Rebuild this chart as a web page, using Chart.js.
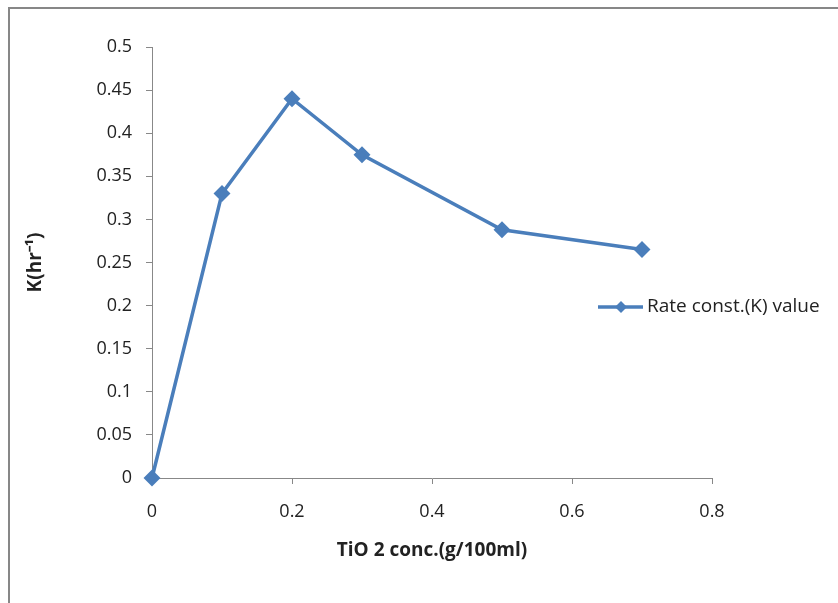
<!DOCTYPE html>
<html>
<head>
<meta charset="utf-8">
<script src="https://cdn.jsdelivr.net/npm/chart.js@4.4.0/dist/chart.umd.min.js"></script>
<style>
  html, body { margin: 0; padding: 0; background: #fff; }
  #wrap { position: relative; width: 838px; height: 603px; overflow: hidden; }
  #frame { position: absolute; left: 8px; top: 7px; width: 900px; height: 700px; border: 2px solid #878787; box-sizing: border-box; }
  canvas { position: absolute; left: 0; top: 0; }
</style>
</head>
<body>
<div id="wrap">
  <div id="frame"></div>
  <canvas id="chart" width="838" height="603"></canvas>
</div>
<script>
// TiO2 concentration vs rate constant
const concValues = [0, 0.1, 0.2, 0.3, 0.5, 0.7];
const rateValues = [0, 0.33, 0.44, 0.375, 0.288, 0.265];
const seriesLabel = "Rate const.(K) value";

const lineColor = "#4a7ebb";
const axisColor = "#888888";
const fontFamily = "'Open Sans', sans-serif";

// legend drawn to the right like the original sheet chart
const sideLegend = {
    id: "sideLegend",
    afterDraw(chart) {
        const ctx = chart.ctx;
        const y = 307;
        ctx.save();
        ctx.strokeStyle = lineColor;
        ctx.lineWidth = 3.5;
        ctx.beginPath();
        ctx.moveTo(598, y);
        ctx.lineTo(643, y);
        ctx.stroke();
        ctx.fillStyle = lineColor;
        ctx.beginPath();
        ctx.moveTo(621, y - 6);
        ctx.lineTo(627, y);
        ctx.lineTo(621, y + 6);
        ctx.lineTo(615, y);
        ctx.closePath();
        ctx.fill();
        ctx.fillStyle = "#222";
        ctx.font = "19px " + fontFamily;
        ctx.textBaseline = "middle";
        ctx.textAlign = "left";
        ctx.fillText(chart.data.datasets[0].label, 647, y);
        ctx.restore();
    }
};

new Chart(document.getElementById("chart"), {
    type: "line",
    data: {
        datasets: [{
            label: seriesLabel,
            data: concValues.map((x, i) => ({ x: x, y: rateValues[i] })),
            borderColor: lineColor,
            backgroundColor: lineColor,
            borderWidth: 3.5,
            pointStyle: "rectRot",
            pointRadius: 6,
            pointHoverRadius: 6,
            tension: 0,
            fill: false,
            clip: false
        }]
    },
    options: {
        responsive: false,
        animation: false,
        layout: { padding: { left: 0, top: 47, right: 126, bottom: 0 } },
        plugins: {
            legend: { display: false },
            tooltip: { enabled: false }
        },
        scales: {
            x: {
                type: "linear",
                min: 0,
                max: 0.8,
                afterFit: s => { s.height = 125; },
                ticks: {
                    stepSize: 0.2,
                    color: "#222",
                    padding: 17,
                    callback: v => +v.toFixed(2),
                    font: { family: fontFamily, size: 18 }
                },
                grid: { drawOnChartArea: false, tickLength: 6, color: axisColor },
                border: { color: axisColor, width: 1 },
                title: {
                    display: true,
                    text: "TiO 2 conc.(g/100ml)",
                    color: "#222",
                    font: { family: fontFamily, size: 19, weight: "bold" },
                    padding: { top: 0, bottom: 41 }
                }
            },
            y: {
                min: 0,
                max: 0.5,
                afterFit: s => { s.width = 152; },
                ticks: {
                    stepSize: 0.05,
                    color: "#222",
                    padding: 14,
                    callback: v => +v.toFixed(2),
                    font: { family: fontFamily, size: 18 }
                },
                grid: { drawOnChartArea: false, tickLength: 6, color: axisColor },
                border: { color: axisColor, width: 1 },
                title: {
                    display: true,
                    text: "K(hr\u207B\u00B9)",
                    color: "#222",
                    font: { family: fontFamily, size: 19, weight: "bold" },
                    padding: { top: 24, bottom: 0 }
                }
            }
        }
    },
    plugins: [sideLegend]
});
</script>
</body>
</html>
